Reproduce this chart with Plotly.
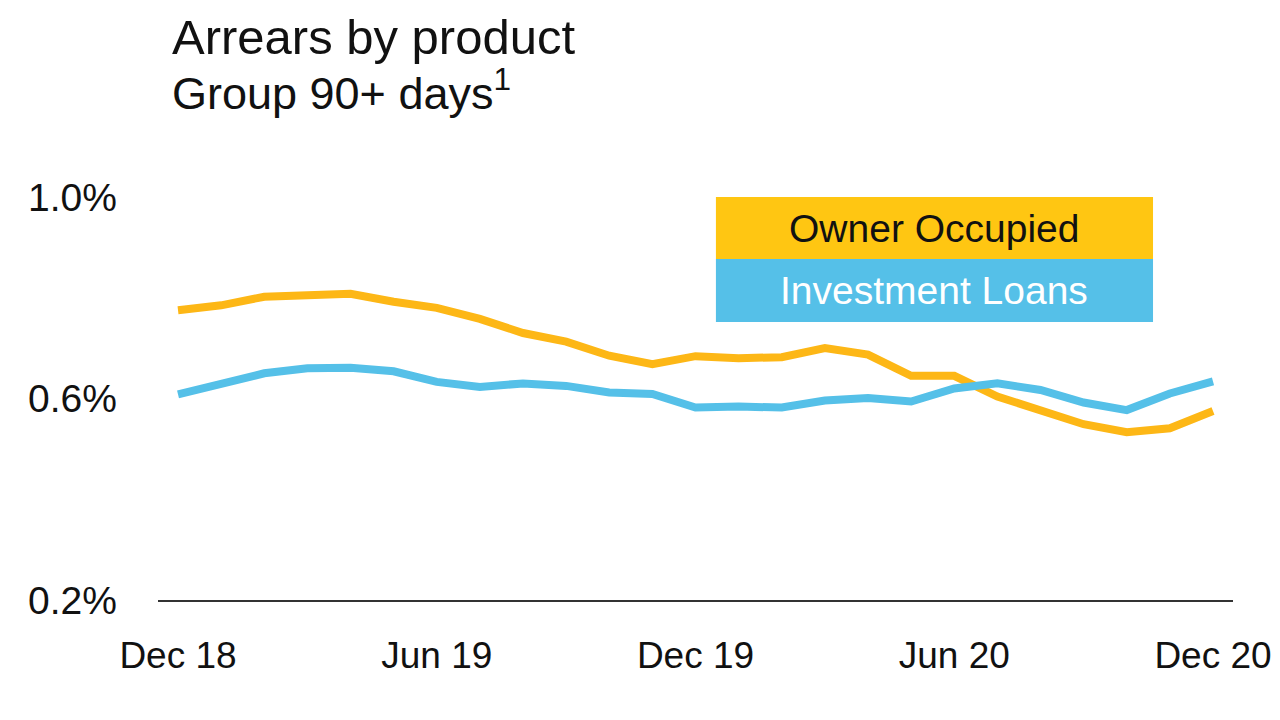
import plotly.graph_objects as go

months = ["Dec 18", "Jan 19", "Feb 19", "Mar 19", "Apr 19", "May 19", "Jun 19",
          "Jul 19", "Aug 19", "Sep 19", "Oct 19", "Nov 19", "Dec 19",
          "Jan 20", "Feb 20", "Mar 20", "Apr 20", "May 20", "Jun 20",
          "Jul 20", "Aug 20", "Sep 20", "Oct 20", "Nov 20", "Dec 20"]

owner_occupied = [0.775, 0.785, 0.802, 0.805, 0.808, 0.792, 0.780, 0.758, 0.730,
                  0.713, 0.685, 0.668, 0.684, 0.680, 0.682, 0.700, 0.687, 0.645,
                  0.645, 0.604, 0.578, 0.549, 0.533, 0.541, 0.575]

investment_loans = [0.608, 0.627, 0.650, 0.660, 0.661, 0.654, 0.633, 0.623, 0.630,
                    0.625, 0.612, 0.609, 0.582, 0.584, 0.582, 0.596, 0.601, 0.594,
                    0.620, 0.630, 0.617, 0.592, 0.577, 0.610, 0.634]

x_tick_labels = ["Dec 18", "Jun 19", "Dec 19", "Jun 20", "Dec 20"]
y_tick_values = [0.2, 0.6, 1.0]
y_tick_labels = ["0.2%", "0.6%", "1.0%"]

series_names = ["Owner Occupied", "Investment Loans"]
line_colors = ["#FDB716", "#55C0E8"]
box_colors = ["#FFC612", "#55C0E8"]
box_text_colors = ["#111111", "#FFFFFF"]

FONT = "Liberation Sans"

fig = go.Figure()
for name, vals, col in zip(series_names, [owner_occupied, investment_loans], line_colors):
    fig.add_trace(go.Scatter(x=months, y=vals, mode="lines", name=name,
                             line=dict(color=col, width=8), showlegend=False))

# Legend boxes
box_edges = [(1.0, 0.846), (0.846, 0.690)]
for name, (ytop, ybot), bc, tc in zip(series_names, box_edges, box_colors, box_text_colors):
    fig.add_shape(type="rect", xref="paper", yref="paper", x0=0.519, x1=0.9256,
                  y0=ybot, y1=ytop, fillcolor=bc, line=dict(width=0), layer="above")
    fig.add_annotation(xref="paper", yref="paper", x=(0.519 + 0.9256) / 2,
                       y=(ytop + ybot) / 2, text=name, showarrow=False,
                       font=dict(family=FONT, size=39, color=tc),
                       xanchor="center", yanchor="middle")

fig.add_annotation(xref="paper", yref="paper", x=0.0112, y=1.397,
                   text="Arrears by product", showarrow=False, xanchor="left",
                   yanchor="middle", font=dict(family=FONT, size=49, color="#111111"))
fig.add_annotation(xref="paper", yref="paper", x=0.0112, y=1.266,
                   text="Group 90+ days<sup>1</sup>", showarrow=False, xanchor="left",
                   yanchor="middle", font=dict(family=FONT, size=45, color="#111111"))

fig.update_xaxes(type="category", range=[-0.464, 24.464], tickmode="array",
                 tickvals=x_tick_labels, ticktext=x_tick_labels, showgrid=False,
                 showline=True, linecolor="#333333", linewidth=2, zeroline=False,
                 ticks="", ticklabelstandoff=22, automargin=False,
                 tickfont=dict(family=FONT, size=37, color="#111111"))
fig.update_yaxes(range=[0.2, 1.0], tickmode="array", tickvals=y_tick_values,
                 ticktext=y_tick_labels, showgrid=False, zeroline=False,
                 showline=False, ticks="", ticklabelstandoff=40, automargin=False,
                 tickfont=dict(family=FONT, size=39, color="#111111"))

fig.update_layout(width=1272, height=704, paper_bgcolor="white", plot_bgcolor="white",
                  margin=dict(l=150, r=47, t=189, b=112), showlegend=False)

fig.write_html("out.html")
